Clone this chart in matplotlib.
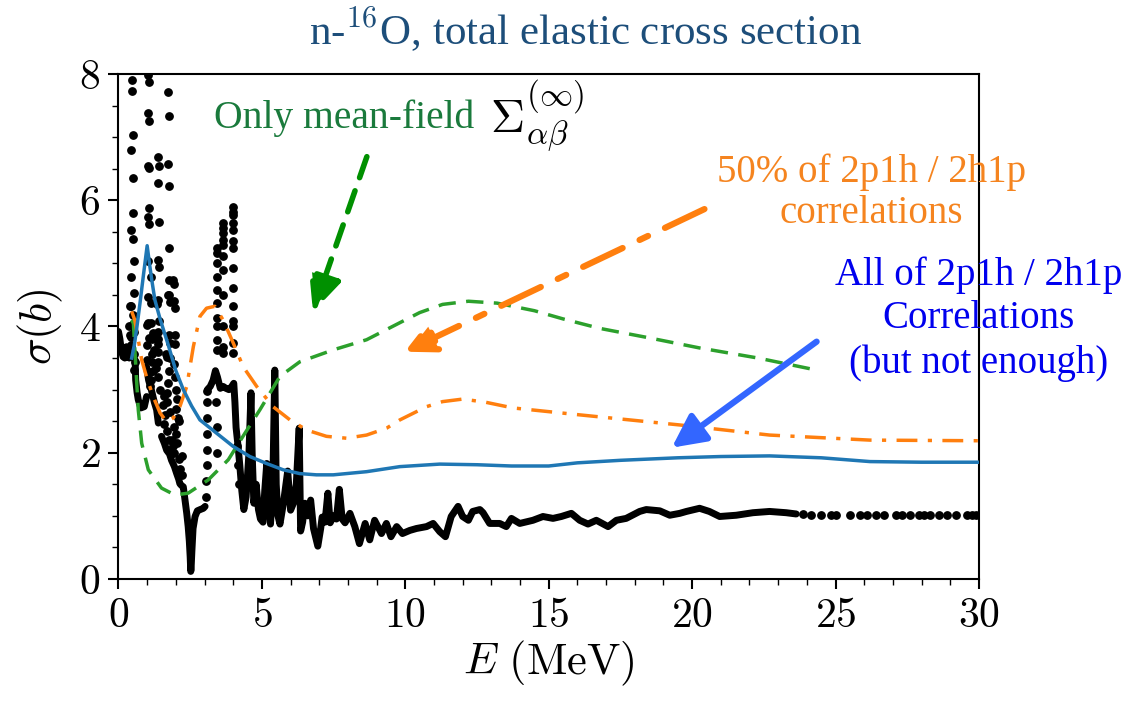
import numpy as np
import matplotlib
matplotlib.use("Agg")
import matplotlib.pyplot as plt

plt.rcParams['mathtext.fontset'] = 'cm'
plt.rcParams['font.family'] = ['Liberation Serif', 'DejaVu Serif']

nan = np.nan

# --- experimental data (dense parts, drawn as a thick dotted line) ---
exp_line_E = [0.0, 0.05, 0.1, 0.16, 0.22, 0.28, 0.33, 0.38, 0.43, nan,
              0.58, 0.6, 0.65, 0.69, 0.78, 0.9, 0.98, nan,
              0.98, 1.05, 1.15, 1.25, 1.33, 1.39, nan,
              1.5, 1.6, 1.68, 1.78, 1.85, 1.95, 2.03, 2.1, 2.14, 2.2, 2.26, 2.32, 2.38,
              2.43, 2.47, 2.5, 2.52, 2.53, 2.56, 2.6, 2.67, 2.75, 2.85, 2.96, 3.02, nan,
              3.1, 3.2, 3.3, 3.38, 3.45, 3.55, 3.65, 3.75, 3.85, 3.95, 4.02,
              4.06, 4.1, 4.17, 4.23, 4.3, 4.37, 4.45, 4.55, 4.62, 4.66, 4.72, 4.8,
              4.88, 4.95, 5.04, 5.1, 5.17, 5.22, 5.3, 5.38, 5.45, 5.5, 5.56, 5.63,
              5.75, 5.9, 6.0, 6.1, 6.2, 6.3, 6.35, 6.42, 6.5, 6.6, 6.7, 6.8, 6.95,
              7.05, 7.1, 7.2, 7.3, 7.38, 7.5, 7.6, 7.7, 7.8, 7.9, 8.07, 8.24, 8.4,
              8.6, 8.76, 8.93, 9.17, 9.34, 9.5, 9.7, 9.9, 10.16, 10.39, 10.74, 10.97,
              11.2, 11.4, 11.6, 11.84, 12.0, 12.2, 12.35, 12.6, 12.71, 12.94, 13.29,
              13.52, 13.7, 13.99, 14.45, 14.8, 15.15, 15.44, 15.79, 16.08, 16.37,
              16.66, 17.07, 17.36, 17.7, 18.17, 18.4, 18.87, 19.22, 19.57, 19.8,
              20.26, 20.6, 20.96, 21.54, 22.12, 22.7, 23.28, 23.63]
exp_line_sig = [3.92, 3.8, 3.62, 3.52, 3.5, 3.68, 3.6, 3.5, 3.55, nan,
                3.47, 3.15, 2.95, 2.84, 2.71, 2.73, 2.89, nan,
                3.36, 3.15, 2.99, 2.8, 2.68, 2.47, nan,
                2.26, 2.15, 2.04, 1.98, 1.88, 1.78, 1.67, 1.58, 1.51, 1.48, 1.46, 1.25, 1.04,
                0.83, 0.6, 0.35, 0.12, 0.15, 0.45, 0.8, 0.99, 1.08, 1.1, 1.12, 1.15, nan,
                3.0, 3.05, 3.15, 3.3, 3.2, 3.02, 3.05, 3.02, 3.0, 3.05, 3.1,
                2.8, 2.4, 2.1, 1.8, 1.4, 1.1, 1.3, 2.0, 2.95, 2.0, 1.2, 1.5,
                1.1, 0.95, 0.9, 1.4, 1.83, 1.4, 0.87, 1.5, 3.31, 1.5, 1.0, 0.87,
                1.2, 1.71, 1.09, 1.2, 1.5, 2.39, 0.76, 0.9, 1.2, 1.0, 1.25, 0.8, 0.52,
                0.8, 0.98, 0.9, 1.36, 0.89, 1.0, 0.95, 1.42, 0.95, 0.89, 1.04, 0.83, 0.56,
                0.88, 0.62, 0.93, 0.72, 0.88, 0.67, 0.83, 0.72, 0.77, 0.8, 0.83, 0.88,
                0.75, 0.67, 0.99, 1.15, 0.99, 0.93, 1.07, 1.1, 1.05, 0.88, 0.88,
                0.83, 0.96, 0.88, 0.93, 0.99, 0.96, 0.99, 1.04, 0.93, 0.87,
                0.93, 0.83, 0.93, 0.96, 1.07, 1.1, 1.08, 1.01, 1.04, 1.07,
                1.12, 1.07, 0.99, 1.01, 1.05, 1.07, 1.05, 1.03]

# --- experimental data (isolated points) ---
exp_dot_E = [0.48, 0.48, 0.5, 0.43, 0.52, 0.52, 0.43, 0.52, 0.53, 0.42, 0.53, 0.43, 0.52, 0.42, 0.45,
             0.4, 0.52, 0.37, 0.55, 0.4, 0.42, 0.55, 0.57, 0.55,
             1.04, 1.05, 1.04, 1.06, 1.04, 1.05, 1.07, 1.03, 1.06, 1.02, 1.02, 1.02, 1.08,
             1.0, 0.98, 1.18, 1.16, 0.98, 1.1, 1.12, 1.1, 1.2, 1.25, 1.22,
             1.15, 1.14, 1.15,
             1.39, 1.41, 1.39, 1.41, 1.39, 1.41, 1.39, 1.43, 1.36,
             1.39, 1.37, 1.39, 1.18, 1.37, 1.39, 1.65, 1.69, 1.39, 1.3, 1.45,
             1.74, 1.75, 1.74, 1.76, 1.75, 1.76, 1.77, 1.79, 1.76, 1.78,
             1.74, 1.97, 1.97, 1.8, 1.75, 1.72, 1.7, 1.68, 1.8,
             1.91, 1.93, 1.95, 1.97, 1.95, 1.96,
             2.0, 2.05, 2.02, 2.08, 1.95, 2.0, 2.05, 1.6, 1.62, 1.55, 1.58,
             1.85, 1.9, 1.95, 2.1, 2.15, 2.2, 2.22, 1.7, 1.75, 1.8, 2.12,
             3.05, 3.06, 3.07, 3.08, 3.08, 3.09, 3.09, 3.1,
             3.42, 3.42, 3.42, 3.42, 3.42, 3.42, 3.42, 3.42, 3.42, 3.42,
             3.65, 3.65, 3.65, 3.65, 3.65, 3.65, 3.65, 3.65, 3.65, 3.65, 3.65,
             4.0, 4.0, 4.0, 4.0, 4.0, 4.0, 4.0, 4.0, 4.0, 4.0, 4.0, 4.0, 4.0, 4.0,
             3.4, 3.42, 3.44, 4.12, 4.15, 4.2,
             23.86, 24.15, 24.5, 24.85, 25.0, 25.5, 25.85, 26.1, 26.4, 26.7, 27.1, 27.3,
             27.6, 27.9, 28.1, 28.3, 28.6, 28.9, 29.2, 29.6, 29.75, 29.9]
exp_dot_sig = [7.91, 7.73, 7.03, 6.79, 6.35, 5.8, 5.53, 5.38, 5.03, 4.78, 4.53, 4.33, 4.04, 3.84, 3.69,
               4.32, 4.18, 4.0, 3.92, 3.87, 3.7, 3.57, 3.44, 3.31,
               7.99, 7.87, 7.38, 7.26, 6.55, 6.51, 5.87, 5.73, 5.63, 5.04, 4.47, 4.05, 3.81,
               4.02, 3.7, 3.57, 3.44, 3.47, 3.28, 3.15, 3.05, 3.9, 3.62, 3.3,
               4.79, 4.38, 4.05,
               6.69, 6.55, 6.27, 5.66, 5.05, 4.94, 4.42, 4.08, 4.36,
               3.92, 3.8, 3.73, 3.8, 3.6, 3.44, 3.57, 3.52, 3.2, 3.35, 3.0,
               7.71, 7.34, 6.58, 6.22, 5.25, 4.73, 4.5, 4.39, 3.86, 3.74,
               4.5, 3.87, 3.73, 3.5, 3.3, 3.1, 2.95, 2.8, 2.65,
               4.73, 4.67, 4.4, 4.3, 3.4, 3.2,
               3.0, 2.85, 2.7, 2.55, 2.4, 2.3, 2.15, 2.45, 2.6, 2.75, 2.9,
               2.2, 2.1, 2.0, 1.9, 1.75, 1.65, 1.95, 2.35, 2.2, 2.05, 2.5,
               1.3, 1.55, 1.8, 2.05, 2.3, 2.55, 2.8, 2.98,
               5.24, 5.16, 5.0, 4.79, 4.58, 4.37, 4.13, 4.0, 3.79, 3.63,
               5.64, 5.56, 5.48, 5.37, 5.29, 5.11, 4.9, 4.5, 4.0, 3.68, 3.58,
               5.9, 5.82, 5.77, 5.64, 5.53, 5.35, 5.24, 4.93, 4.61, 4.32, 4.08, 4.0, 3.74, 3.58,
               2.8, 2.4, 2.0, 2.1, 1.8, 1.5,
               1.03, 1.02, 1.01, 1.01, 1.01, 1.01, 1.01, 1.02, 1.01, 1.02, 1.01, 1.02,
               1.02, 1.01, 1.02, 1.02, 1.01, 1.02, 1.01, 1.02, 1.02, 1.01]

# --- theory curves ---
all_E = [0.46, 0.55, 0.63, 0.75, 0.88, 1.0, 1.08, 1.16, 1.27, 1.45, 1.74, 2.0, 2.26, 2.55,
         2.84, 3.42, 4.0, 4.58, 5.16, 5.74, 6.32, 6.9, 7.49, 8.65, 9.81, 11.2, 12.5, 13.7,
         15.0, 16.0, 17.5, 19.5, 21.0, 22.7, 24.5, 26.2, 28.0, 30.0]
all_sig = [3.5, 3.7, 3.95, 4.37, 4.85, 5.28, 5.0, 4.74, 4.42, 4.12, 3.7, 3.3, 3.0, 2.74,
           2.52, 2.31, 2.1, 1.94, 1.83, 1.73, 1.67, 1.65, 1.65, 1.7, 1.78, 1.82, 1.81, 1.79,
           1.79, 1.84, 1.88, 1.92, 1.94, 1.95, 1.92, 1.86, 1.85, 1.85]

half_E = [0.46, 0.57, 0.69, 0.81, 0.98, 1.21, 1.45, 1.68, 1.91, 2.14, 2.38, 2.61, 2.84, 3.07,
          3.36, 3.65, 4.0, 4.35, 4.82, 5.39, 5.98, 6.56, 7.25, 7.95, 8.65, 9.35, 9.81, 10.74,
          11.3, 12.0, 12.8, 13.75, 16.08, 19.57, 22.7, 26.2, 30.0]
half_sig = [4.24, 4.1, 3.79, 3.47, 3.2, 2.89, 2.63, 2.49, 2.55, 2.73, 3.05, 3.68, 4.16, 4.29,
            4.32, 4.1, 3.74, 3.36, 3.05, 2.73, 2.52, 2.36, 2.26, 2.23, 2.28, 2.39, 2.52, 2.73,
            2.81, 2.85, 2.8, 2.71, 2.6, 2.44, 2.28, 2.2, 2.19]

mf_E = [0.45, 0.52, 0.6, 0.69, 0.81, 1.04, 1.5, 1.97, 2.43, 3.13, 3.83, 4.41, 4.93, 5.63,
        6.32, 7.49, 8.65, 9.81, 10.5, 11.3, 12.2, 13.2, 14.5, 15.5, 16.78, 18.5, 20.26,
        22.3, 24.33]
mf_sig = [4.1, 4.05, 3.4, 2.68, 2.15, 1.73, 1.44, 1.33, 1.36, 1.57, 1.89, 2.31, 2.68, 3.21,
          3.44, 3.63, 3.79, 4.06, 4.22, 4.35, 4.4, 4.37, 4.25, 4.12, 3.97, 3.82, 3.66,
          3.5, 3.31]

xticks = [0, 5, 10, 15, 20, 25, 30]
yticks = [0, 2, 4, 6, 8]

fig = plt.figure(figsize=(11.37, 7.06), dpi=100)
ax = fig.add_axes([0.1042, 0.1799, 0.7568, 0.7153])

ax.plot(exp_line_E, exp_line_sig, '-', color='black', lw=5, solid_capstyle='round',
        solid_joinstyle='round', zorder=2)
ax.plot(exp_dot_E, exp_dot_sig, 'o', color='black', ms=5.3, zorder=2)

ax.plot(mf_E, mf_sig, '--', color='#2ca02c', lw=2.5, dashes=(5, 3), zorder=3)
ax.plot(half_E, half_sig, '-.', color='#ff7f0e', lw=2.5, dashes=(6, 3, 1.2, 3), zorder=3)
ax.plot(all_E, all_sig, '-', color='#1f77b4', lw=2.5, zorder=3)

# arrows
ax.annotate('', xy=(6.78, 4.23), xytext=(8.66, 6.69),
            arrowprops=dict(arrowstyle='-|>,head_length=1.1,head_width=0.5', lw=4,
                            ls=(0, (4, 2.5)), color='#009000', mutation_scale=20,
                            shrinkA=0, shrinkB=0))
ax.annotate('', xy=(9.98, 3.6), xytext=(20.43, 5.86),
            arrowprops=dict(arrowstyle='-|>,head_length=0.9,head_width=0.45', lw=4.5,
                            ls=(0, (7, 3, 1.5, 3)), color='#ff7f0e', mutation_scale=20,
                            shrinkA=0, shrinkB=0))
ax.annotate('', xy=(19.29, 2.08), xytext=(24.34, 3.76),
            arrowprops=dict(arrowstyle='-|>,head_length=1.0,head_width=0.5', lw=4.5,
                            color='#3366ff', mutation_scale=20, shrinkA=0, shrinkB=0))

# texts
ax.text(7.86, 7.15, 'Only mean-field', color='#1a7a3c', fontsize=28.5,
        ha='center', va='baseline')
ax.text(12.94, 7.07, r'$\Sigma_{\alpha\beta}^{(\infty)}$', color='black', fontsize=34,
        ha='left', va='baseline')
ax.text(26.25, 6.29, '50% of 2p1h / 2h1p', color='#f5841f', fontsize=28,
        ha='center', va='baseline')
ax.text(26.25, 5.64, 'correlations', color='#f5841f', fontsize=28,
        ha='center', va='baseline')
ax.text(30.0, 4.66, 'All of 2p1h / 2h1p', color='#0000ee', fontsize=28,
        ha='center', va='baseline')
ax.text(30.0, 3.98, 'Correlations', color='#0000ee', fontsize=28,
        ha='center', va='baseline')
ax.text(30.0, 3.26, '(but not enough)', color='#0000ee', fontsize=28,
        ha='center', va='baseline')

fig.text(586 / 1137, 1 - 30 / 706, r'n-$^{16}$O, total elastic cross section',
         color='#1d4e7a', fontsize=31, ha='center', va='center')

ax.set_xlim(0, 30)
ax.set_ylim(0, 8)
ax.set_xticks(xticks)
ax.set_xticklabels([f'${t}$' for t in xticks])
ax.set_yticks(yticks)
ax.set_yticklabels([f'${t}$' for t in yticks])
ax.set_xticks(np.arange(0, 31, 1), minor=True)
ax.set_yticks(np.arange(0, 8.01, 0.5), minor=True)
ax.tick_params(which='major', direction='out', length=7, width=1.5, labelsize=30, pad=6)
ax.tick_params(which='minor', direction='out', length=4, width=1.0)
for s in ax.spines.values():
    s.set_linewidth(1.5)

ax.set_xlabel(r'$E\ (\mathrm{MeV})$', fontsize=32, labelpad=2)
ax.set_ylabel(r'$\sigma(b)$', fontsize=32, labelpad=10)

fig.savefig('out.png', dpi=100)
